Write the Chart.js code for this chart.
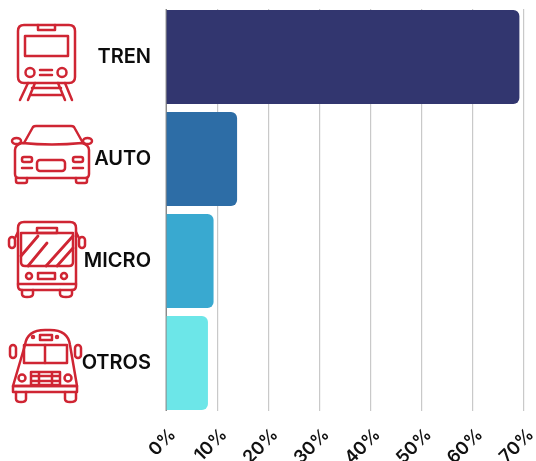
<!DOCTYPE html>
<html><head><meta charset="utf-8">
<style>
html,body{margin:0;padding:0;background:#fff;overflow:hidden}
#wrap{position:relative;width:536px;height:461px}
canvas{position:absolute;left:0;top:0}
svg{position:absolute;left:0;top:0;filter:blur(.45px)}
svg *{fill:none;stroke:#cf2533;stroke-width:2.5;stroke-linejoin:round;stroke-linecap:round}
</style>
<script src="https://cdn.jsdelivr.net/npm/chart.js@4"></script>
</head><body><div id="wrap"><canvas id="c" width="536" height="461"></canvas>
<svg width="170" height="410" viewBox="0 0 170 410">
<!-- tren -->
<path d="M24 25H69Q75 25 75 31V77Q75 83 69 83H24Q18 83 18 77V31Q18 25 24 25Z"/>
<path d="M38 25V30H55V25"/><rect x="25" y="36" width="43" height="20"/>
<circle cx="30" cy="72.5" r="4.5"/><circle cx="62" cy="72.5" r="4.5"/>
<path d="M40 70H52M40 75H52M28 83L20 100M65 83L72 100M35 83L28 100M58 83L65 100M32 88H61M30 95H63"/>
<!-- auto -->
<path d="M24 143L33 127Q34 126 36 126H71Q73 126 74 127L83 143"/>
<path d="M15 150Q15 145 22 143Q52 146 82 143Q89 145 89 150V174Q89 178 85 178H19Q15 178 15 174Z"/>
<ellipse cx="16.5" cy="141" rx="4.5" ry="3"/><ellipse cx="87.5" cy="141" rx="4.5" ry="3"/>
<rect x="22" y="157" width="10" height="5" rx="2"/><rect x="73" y="157" width="10" height="5" rx="2"/>
<rect x="37" y="160" width="28" height="11" rx="3"/>
<path d="M22 168H32M73 168H83M16 178V181Q16 183 18 183H25Q27 183 27 181V178M76 178V181Q76 183 78 183H85Q87 183 87 181V178"/>
<!-- micro -->
<path d="M18 286V228Q18 222 24 222H70Q76 222 76 228V286Q76 290 72 290H22Q18 290 18 286Z"/>
<path d="M21 233H73V262Q73 266 69 266H25Q21 266 21 262Z"/>
<path d="M37 228H57V233H37Z"/>
<path d="M21 256L38 236M28 266L47 243M46 266L73 236M57 266L73 248" style="stroke-width:2.8"/>
<rect x="9" y="237" width="6" height="11" rx="3"/><rect x="79" y="237" width="6" height="11" rx="3"/>
<path d="M15 238L18 232M79 238L76 232"/>
<circle cx="29" cy="276" r="3"/><circle cx="64" cy="276" r="3"/>
<rect x="38" y="273" width="17" height="6"/>
<path d="M18 284H76M22 290V294Q22 297 27 297Q33 297 33 294V290M60 290V294Q60 297 66 297Q72 297 72 294V290"/>
<!-- otros -->
<path d="M25 345Q27 330 45 330H50Q68 330 70 345L77 386H13Z"/>
<rect x="24" y="345" width="43" height="18"/><path d="M45 345V363"/>
<rect x="40" y="335" width="12" height="5"/><circle cx="33" cy="337" r="1"/><circle cx="57" cy="337" r="1"/>
<rect x="10" y="345" width="6" height="13" rx="3"/><rect x="75" y="345" width="6" height="13" rx="3"/>
<circle cx="22" cy="378" r="3.5"/><circle cx="68" cy="378" r="3.5"/>
<path d="M31 372H60V385H31ZM31 376H60M31 381H60M39 372V385M52 372V385"/>
<rect x="13" y="386" width="64" height="6"/>
<path d="M16 392V399Q16 402 21 402Q26 402 26 399V392M65 392V399Q65 402 70 402Q76 402 76 399V392"/>
</svg></div>
<script>
const categories=['TREN','AUTO','MICRO','OTROS'];
const shares=[69.1,13.9,9.3,8.2];
const barColors=['#32366f','#2d6da6','#39a9d0','#6ce6e8'];
const xTicks=[0,10,20,30,40,50,60,70];
const coverEnds={id:'coverEnds',beforeDatasetsDraw(ch){const g=ch.ctx,a=ch.chartArea;g.save();g.fillStyle='#fff';
 g.fillRect(a.left-2,0,a.width+20,9);g.fillRect(a.left-2,411,a.width+20,a.bottom-411+2);g.restore();}};
new Chart(document.getElementById('c'),{type:'bar',
 data:{labels:categories,datasets:[{data:shares,backgroundColor:barColors,barPercentage:.92,categoryPercentage:1,
  borderRadius:{topRight:6,bottomRight:6,topLeft:0,bottomLeft:0},borderSkipped:false}]},
 plugins:[coverEnds],
 options:{indexAxis:'y',responsive:false,animation:false,
  layout:{autoPadding:false,padding:{top:6,right:12,left:0,bottom:0}},
  plugins:{legend:{display:false},tooltip:{enabled:false}},
  scales:{
   x:{min:0,max:70,afterFit(s){s.height=47;s.paddingLeft=0;s.paddingRight=0;s.paddingTop=0;s.paddingBottom=0},afterBuildTicks(s){s.ticks=xTicks.map(v=>({value:v}))},
    grid:{color:'#c9c9c9',lineWidth:1.2,drawTicks:false},border:{display:false},
    ticks:{autoSkip:false,maxRotation:45,minRotation:45,padding:10,labelOffset:7,color:'#111',font:{family:'Inter',size:18,weight:'600'},callback:v=>v+'%'}},
   y:{afterFit(s){s.width=166;s.paddingLeft=0;s.paddingRight=0;s.paddingTop=0;s.paddingBottom=0},grid:{display:false,drawTicks:false},border:{display:true,color:'#8a8a8a',width:1},
    ticks:{padding:15,color:'#0c0c0c',font:{family:'Inter',size:20,weight:'600'}}}
  }}});
</script></body></html>
